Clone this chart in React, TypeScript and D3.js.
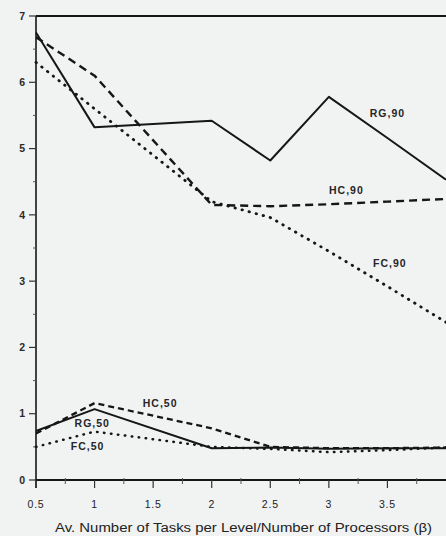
import React from 'react';
import * as d3 from 'd3';

// beta values where the curves were sampled
const betas = [0.5, 1, 2, 2.5, 3, 3.5, 4];

// 90% series
const rg90 = [6.75, 5.32, 5.42, 4.82, 5.78, 5.16, 4.53];
const hc90 = [6.68, 6.1, 4.15, 4.13, 4.16, 4.2, 4.24];
const fc90 = [6.3, 5.6, 4.2, 3.96, 3.45, 2.92, 2.38];

// 50% series
const rg50 = [0.74, 1.07, 0.48, 0.49, 0.47, 0.48, 0.48];
const hc50 = [0.7, 1.16, 0.78, 0.5, 0.48, 0.48, 0.49];
const fc50 = [0.5, 0.73, 0.5, 0.47, 0.42, 0.45, 0.49];

const xTicks = [0.5, 1, 1.5, 2, 2.5, 3, 3.5];
const yTicks = [0, 1, 2, 3, 4, 5, 6, 7];

const labelNames = ['RG,90', 'HC,90', 'FC,90', 'HC,50', 'RG,50', 'FC,50'];
const labelX = [3.5, 3.15, 3.52, 1.56, 0.98, 0.94];
const labelY = [5.54, 4.37, 3.27, 1.16, 0.86, 0.51];

const W = 446;
const H = 536;
const BG = '#f1f2f2';
const INK = '#161616';

export default function App() {
  const x = d3.scaleLinear().domain([0.5, 4]).range([36, 446]);
  const y = d3.scaleLinear().domain([0, 7]).range([480, 16]);

  const lineGen = d3
    .line<number>()
    .x((_, i) => x(betas[i]))
    .y((d) => y(d));

  const series = [
    { vals: rg90, dash: null, w: 2 },
    { vals: hc90, dash: '8 5', w: 2.4 },
    { vals: fc90, dash: '0.5 6.8', w: 2.8 },
    { vals: rg50, dash: null, w: 2 },
    { vals: hc50, dash: '6 4', w: 2.3 },
    { vals: fc50, dash: '0.5 6.5', w: 2.5 },
  ];

  const minorX = d3.range(0.75, 4.01, 0.5);
  const minorY = d3.range(0.5, 7, 1);

  return (
    <div style={{ position: 'fixed', left: 0, top: 0, width: W, height: H, background: BG }}>
      <svg width={W} height={H} style={{ display: 'block', fontFamily: 'Arial, "Liberation Sans", sans-serif' }}>
        <rect x={0} y={0} width={W} height={H} fill={BG} />

        {/* frame: top border, left and bottom axes */}
        <line x1={x(0.5)} x2={W} y1={y(7)} y2={y(7)} stroke={INK} strokeWidth={2} />
        <line x1={x(0.5)} x2={x(0.5)} y1={y(7)} y2={y(0) + 8} stroke={INK} strokeWidth={1.6} />
        <line x1={x(0.5) - 1} x2={W} y1={y(0)} y2={y(0)} stroke={INK} strokeWidth={1.8} />

        {/* y ticks */}
        {yTicks.map((t) => (
          <g key={'y' + t}>
            <line x1={x(0.5) - 7} x2={x(0.5)} y1={y(t)} y2={y(t)} stroke="#333" strokeWidth={1.2} />
            <text
              x={x(0.5) - 11}
              y={y(t)}
              dy="0.36em"
              textAnchor="end"
              fontSize={10.5}
              fontWeight="bold"
              fill="#2a2a2a"
            >
              {t}
            </text>
          </g>
        ))}
        {minorY.map((t) => (
          <line key={'my' + t} x1={x(0.5) - 3} x2={x(0.5)} y1={y(t)} y2={y(t)} stroke="#555" strokeWidth={1} />
        ))}

        {/* x ticks */}
        {xTicks.map((t) => (
          <g key={'x' + t}>
            <line x1={x(t)} x2={x(t)} y1={y(0)} y2={y(0) + 8} stroke="#333" strokeWidth={1.2} />
            <text
              x={x(t)}
              y={y(0) + 28}
              textAnchor="middle"
              fontSize={10.5}
              letterSpacing={0.8}
              fill="#222"
            >
              {t}
            </text>
          </g>
        ))}
        {minorX.map((t) => (
          <line key={'mx' + t} x1={x(t)} x2={x(t)} y1={y(0) - 2} y2={y(0) + 4} stroke="#555" strokeWidth={1} />
        ))}

        <text x={55} y={532} fontSize={12.5} textLength={377} lengthAdjust="spacingAndGlyphs" fill="#222">
          Av. Number of Tasks per Level/Number of Processors (β)
        </text>

        {/* curves */}
        {series.map((s, i) => (
          <path
            key={'s' + i}
            d={lineGen(s.vals) || ''}
            fill="none"
            stroke={INK}
            strokeWidth={s.w}
            strokeDasharray={s.dash || undefined}
            strokeLinecap={s.dash && s.dash.startsWith('0.5') ? 'round' : 'butt'}
            strokeLinejoin="round"
          />
        ))}

        {/* curve labels */}
        {labelNames.map((name, i) => (
          <text
            key={name}
            x={x(labelX[i])}
            y={y(labelY[i])}
            dy="0.36em"
            textAnchor="middle"
            fontSize={10.5}
            fontWeight="bold"
            letterSpacing={1}
            fill="#262626"
          >
            {name}
          </text>
        ))}
      </svg>
    </div>
  );
}
